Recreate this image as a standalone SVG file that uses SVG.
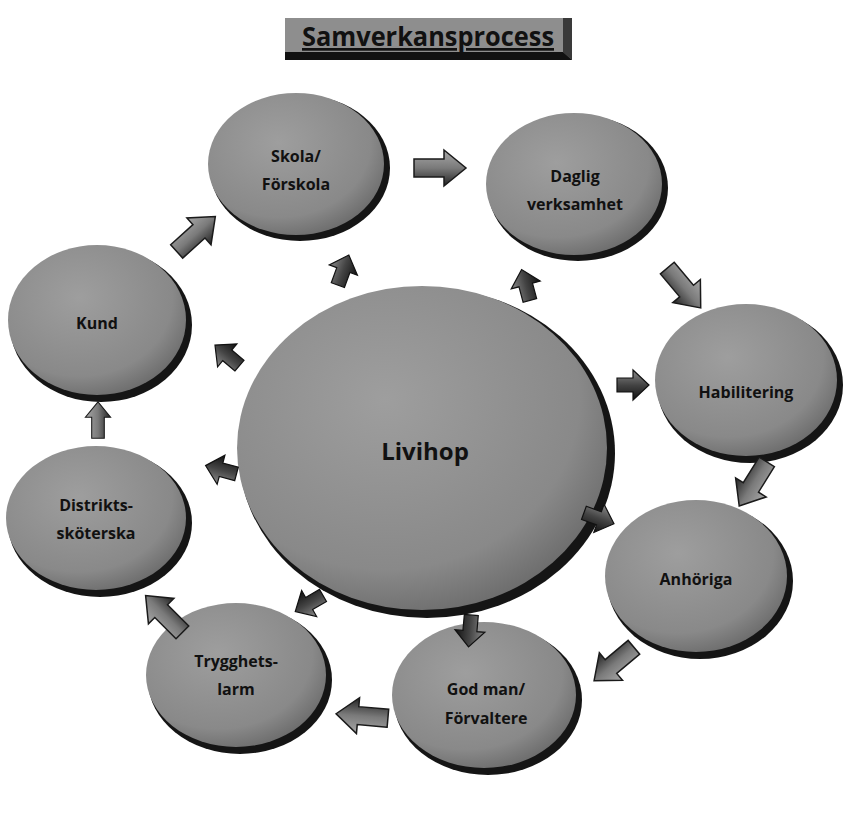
<svg xmlns="http://www.w3.org/2000/svg" width="861" height="816" viewBox="0 0 861 816">
  <defs>
    <radialGradient id="nodeFill" cx="0.4" cy="0.35" r="0.7">
      <stop offset="0" stop-color="#9e9e9e"/>
      <stop offset="0.75" stop-color="#898989"/>
      <stop offset="1" stop-color="#6a6a6a"/>
    </radialGradient>
    <linearGradient id="arrowFill" x1="0" y1="0" x2="0" y2="1">
      <stop offset="0" stop-color="#a8a8a8"/>
      <stop offset="0.5" stop-color="#7a7a7a"/>
      <stop offset="1" stop-color="#222"/>
    </linearGradient>
    <linearGradient id="smallFill" x1="0" y1="0" x2="0" y2="1">
      <stop offset="0" stop-color="#8a8a8a"/>
      <stop offset="0.5" stop-color="#444"/>
      <stop offset="1" stop-color="#111"/>
    </linearGradient>
    <polygon id="bigArrow" points="-26,-9 4,-9 4,-18 26,0 4,18 4,9 -26,9"/>
    <polygon id="smallArrow" points="-15,-7 1,-7 1,-15 17,0 1,15 1,7 -15,7"/>
  </defs>
  <style>
    .rim { fill: #151515; }
    .node { fill: url(#nodeFill); }
    .lbl { font-family: "Open Sans", "Liberation Sans", sans-serif; font-weight: bold; font-size: 16px; fill: #111111; text-anchor: middle; }
    .big { font-size: 24px; }
    .arrow { fill: url(#arrowFill); stroke: #1a1a1a; stroke-width: 1.5; stroke-linejoin: miter; }
    .sarrow { fill: url(#smallFill); stroke: #111; stroke-width: 1.2; }
  </style>
  <rect width="861" height="816" fill="#ffffff"/>

  <g id="title">
    <rect x="285" y="18" width="287" height="42" fill="#8e8e8e"/>
    <polygon points="563,18 572,18 572,60 563,52" fill="#3a3a3a"/>
    <polygon points="285,52 563,52 572,60 285,60" fill="#111"/>
    <text x="428" y="46" class="lbl" style="font-size:27px" textLength="252" lengthAdjust="spacingAndGlyphs" text-decoration="underline">Samverkansprocess</text>
  </g>

  <g id="node-livihop">
    <ellipse cx="427" cy="453" rx="188" ry="165" class="rim"/>
    <ellipse cx="422" cy="448" rx="185" ry="162" class="node"/>
    <text x="425" y="460" class="lbl big">Livihop</text>
  </g>

  <g id="node-skola">
    <ellipse cx="300" cy="168" rx="90" ry="73" class="rim"/>
    <ellipse cx="296" cy="164" rx="88" ry="71" class="node"/>
    <text x="296" y="162" class="lbl">Skola/</text>
    <text x="296" y="190" class="lbl">Förskola</text>
  </g>

  <g id="node-daglig">
    <ellipse cx="578" cy="188" rx="90" ry="73" class="rim"/>
    <ellipse cx="574" cy="184" rx="88" ry="71" class="node"/>
    <text x="575" y="182" class="lbl">Daglig</text>
    <text x="575" y="210" class="lbl">verksamhet</text>
  </g>

  <g id="node-habilitering">
    <ellipse cx="750" cy="385" rx="93" ry="78" class="rim"/>
    <ellipse cx="746" cy="380" rx="91" ry="76" class="node"/>
    <text x="746" y="398" class="lbl">Habilitering</text>
  </g>

  <g id="node-anhoriga">
    <ellipse cx="700" cy="581" rx="93" ry="78" class="rim"/>
    <ellipse cx="696" cy="576" rx="91" ry="76" class="node"/>
    <text x="696" y="585" class="lbl">Anhöriga</text>
  </g>

  <g id="node-godman">
    <ellipse cx="488" cy="700" rx="94" ry="75" class="rim"/>
    <ellipse cx="484" cy="695" rx="92" ry="73" class="node"/>
    <text x="486" y="695" class="lbl">God man/</text>
    <text x="486" y="724" class="lbl">Förvaltere</text>
  </g>

  <g id="node-trygghet">
    <ellipse cx="240" cy="680" rx="92" ry="74" class="rim"/>
    <ellipse cx="236" cy="675" rx="90" ry="72" class="node"/>
    <text x="236" y="667" class="lbl">Trygghets-</text>
    <text x="236" y="695" class="lbl">larm</text>
  </g>

  <g id="node-distrikts">
    <ellipse cx="100" cy="523" rx="92" ry="74" class="rim"/>
    <ellipse cx="96" cy="518" rx="90" ry="72" class="node"/>
    <text x="96" y="511" class="lbl">Distrikts-</text>
    <text x="96" y="539" class="lbl">sköterska</text>
  </g>

  <g id="node-kund">
    <ellipse cx="101" cy="325" rx="91" ry="77" class="rim"/>
    <ellipse cx="97" cy="320" rx="89" ry="75" class="node"/>
    <text x="97" y="329" class="lbl">Kund</text>
  </g>

  <g id="connectors">
    <use href="#bigArrow" class="arrow" transform="translate(196,234) rotate(-42)"/>
    <use href="#bigArrow" class="arrow" transform="translate(440,168) rotate(0)"/>
    <use href="#bigArrow" class="arrow" transform="translate(684,288) rotate(50)"/>
    <use href="#bigArrow" class="arrow" transform="translate(753,484) rotate(122)"/>
    <use href="#bigArrow" class="arrow" transform="translate(614,664) rotate(140)"/>
    <use href="#bigArrow" class="arrow" transform="translate(362,716) rotate(185)"/>
    <use href="#bigArrow" class="arrow" transform="translate(164,614) rotate(-135)"/>
    <use href="#bigArrow" class="arrow" transform="translate(98,420) rotate(-90) scale(0.7)"/>

    <use href="#smallArrow" class="sarrow" transform="translate(343,271) rotate(-70)"/>
    <use href="#smallArrow" class="sarrow" transform="translate(526,286) rotate(-105)"/>
    <use href="#smallArrow" class="sarrow" transform="translate(632,385) rotate(0)"/>
    <use href="#smallArrow" class="sarrow" transform="translate(598,518) rotate(20)"/>
    <use href="#smallArrow" class="sarrow" transform="translate(470,630) rotate(95)"/>
    <use href="#smallArrow" class="sarrow" transform="translate(310,603) rotate(150)"/>
    <use href="#smallArrow" class="sarrow" transform="translate(222,470) rotate(-165)"/>
    <use href="#smallArrow" class="sarrow" transform="translate(228,356) rotate(-140)"/>
  </g>
</svg>
